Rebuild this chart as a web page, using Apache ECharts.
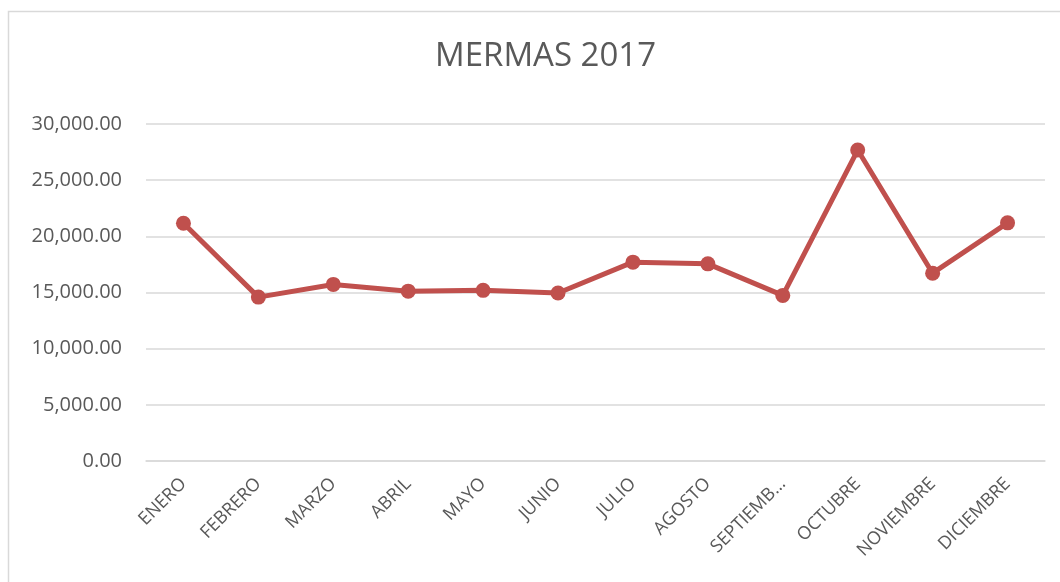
<!DOCTYPE html>
<html>
<head>
<meta charset="utf-8">
<script src="https://cdn.jsdelivr.net/npm/echarts@6/dist/echarts.min.js"></script>
<style>
  html, body { margin: 0; padding: 0; background: #fff; }
  #main { width: 1060px; height: 582px; }
</style>
</head>
<body>
<div id="main"></div>
<script>
// datos
var meses = ['ENERO', 'FEBRERO', 'MARZO', 'ABRIL', 'MAYO', 'JUNIO', 'JULIO', 'AGOSTO', 'SEPTIEMBRE', 'OCTUBRE', 'NOVIEMBRE', 'DICIEMBRE'];
var mermas = [21160, 14590, 15720, 15120, 15190, 14950, 17700, 17550, 14740, 27680, 16720, 21200];
var ejeY = [0, 5000, 10000, 15000, 20000, 25000, 30000];

var myChart = echarts.init(document.getElementById('main'));
var fuente = '"Open Sans", sans-serif';

var option = {
    backgroundColor: '#fff',
    color: ['#C0504D'],
    animation: false,
    // marco del grafico
    graphic: [{
        type: 'rect',
        shape: { x: 8.5, y: 11.5, width: 1100, height: 700 },
        style: { fill: 'none', stroke: '#d9d9d9', lineWidth: 1.5 },
        silent: true
    }],
    title: {
        text: 'MERMAS 2017',
        left: 430,
        top: 35,
        textStyle: {
            fontFamily: fuente,
            fontWeight: 'normal',
            fontSize: 33,
            color: '#595959'
        }
    },
    grid: {
        left: 146,
        right: 15,
        top: 124,
        bottom: 121,
        containLabel: false
    },
    xAxis: {
        type: 'category',
        data: meses,
        boundaryGap: true,
        axisLine: { show: true, lineStyle: { color: '#d9d9d9', width: 1.5 } },
        axisTick: { show: false },
        axisLabel: {
            rotate: 45,
            margin: 20,
            interval: 0,
            fontFamily: fuente,
            fontSize: 18,
            color: '#595959',
            // el texto largo se corta como en el original
            formatter: function (v) {
                return v.length > 9 ? v.slice(0, 8) + '…' : v;
            }
        }
    },
    yAxis: {
        type: 'value',
        min: ejeY[0],
        max: ejeY[ejeY.length - 1],
        interval: 5000,
        axisLine: { show: false },
        axisTick: { show: false },
        axisLabel: {
            margin: 24,
            fontFamily: fuente,
            fontSize: 20,
            color: '#595959',
            formatter: function (v) {
                return v.toLocaleString('en-US', { minimumFractionDigits: 2, maximumFractionDigits: 2 });
            }
        },
        splitLine: { show: true, lineStyle: { color: '#d9d9d9', width: 1.5 } }
    },
    series: [{
        name: 'MERMAS',
        type: 'line',
        data: mermas,
        symbol: 'circle',
        symbolSize: 15,
        lineStyle: { width: 5, color: '#C0504D' },
        itemStyle: { color: '#C0504D' }
    }]
};

myChart.setOption(option);
</script>
</body>
</html>
